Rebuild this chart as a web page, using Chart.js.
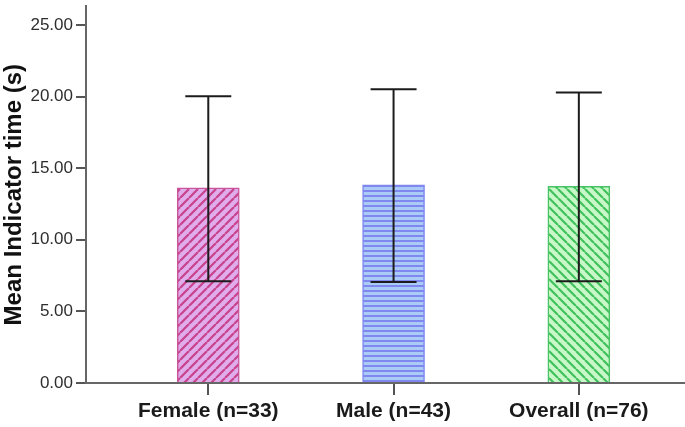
<!DOCTYPE html>
<html><head><meta charset="utf-8">
<script src="https://cdn.jsdelivr.net/npm/chart.js@4"></script>
<style>html,body{margin:0;padding:0;background:#fff}#wrap{width:685px;height:427px;position:relative}</style>
</head><body><div id="wrap"><canvas id="c"></canvas></div>
<script>
const categories = ['Female (n=33)', 'Male (n=43)', 'Overall (n=76)'];
const means = [13.63, 13.84, 13.74];
const errUpper = [20.02, 20.52, 20.29];
const errLower = [7.10, 7.05, 7.10];
const yTicks = [0, 5, 10, 15, 20, 25];
const yTitle = 'Mean Indicator time (s)';

function makePattern(kind, bg, fg) {
  const c = document.createElement('canvas');
  const ctx = c.getContext('2d');
  if (kind === 'h') {
    c.width = 4; c.height = 5;
    ctx.fillStyle = bg; ctx.fillRect(0, 0, 4, 5);
    ctx.fillStyle = fg; ctx.fillRect(0, 0, 4, 2);
  } else {
    const s = 9;
    c.width = s; c.height = s;
    ctx.fillStyle = bg; ctx.fillRect(0, 0, s, s);
    ctx.strokeStyle = fg; ctx.lineWidth = 2.2;
    ctx.beginPath();
    for (let k = -1; k <= 1; k++) {
      if (kind === '/') { ctx.moveTo(k * s, s); ctx.lineTo(k * s + s, 0); }
      else { ctx.moveTo(k * s, 0); ctx.lineTo(k * s + s, s); }
    }
    ctx.stroke();
  }
  return ctx.createPattern(c, 'repeat');
}

const fills = [
  makePattern('/', '#e0acec', '#c8428c'),
  makePattern('h', '#aacbf5', '#8088f0'),
  makePattern('\\', '#c8f7c8', '#3fc15c')
];
const borders = ['#c8569a', '#7f86f0', '#48c466'];

const errorBars = {
  id: 'errorBars',
  afterDatasetsDraw(chart) {
    const { ctx, scales: { x, y } } = chart;
    ctx.save();
    ctx.strokeStyle = '#1c1c1c';
    ctx.lineWidth = 2;
    categories.forEach((c, i) => {
      const px = x.getPixelForValue(i + 1);
      const top = y.getPixelForValue(errUpper[i]);
      const bot = y.getPixelForValue(errLower[i]);
      ctx.beginPath();
      ctx.moveTo(px, top); ctx.lineTo(px, bot);
      ctx.moveTo(px - 23, top); ctx.lineTo(px + 23, top);
      ctx.moveTo(px - 23, bot); ctx.lineTo(px + 23, bot);
      ctx.stroke();
    });
    ctx.restore();
  }
};

new Chart(document.getElementById('c'), {
  type: 'bar',
  data: {
    datasets: [{
      data: means.map((m, i) => ({ x: i + 1, y: m })),
      backgroundColor: fills,
      borderColor: borders,
      borderWidth: 1.5,
      barThickness: 62
    }]
  },
  options: {
    responsive: true,
    maintainAspectRatio: false,
    animation: false,
    events: [],
    layout: { padding: { top: 5, right: 0, left: 0, bottom: 0 } },
    plugins: { legend: { display: false }, tooltip: { enabled: false } },
    scales: {
      x: {
        type: 'linear',
        offset: false,
        min: 0.34,
        max: 3.573,
        afterBuildTicks: (s) => { s.ticks = categories.map((c, i) => ({ value: i + 1 })); },
        afterFit: (s) => { s.height = 44; },
        ticks: {
          autoSkip: false, maxRotation: 0, padding: 4,
          callback: (v) => categories[Math.round(v) - 1],
          font: { family: "'Liberation Sans', Arial, sans-serif", size: 21, weight: 'bold' },
          color: '#1a1a1a'
        },
        grid: { offset: false, drawOnChartArea: false, drawTicks: true, tickLength: 12, color: '#555', lineWidth: 2 },
        border: { display: true, color: '#666', width: 2 }
      },
      y: {
        min: 0,
        max: 26.3,
        afterBuildTicks: (s) => { s.ticks = yTicks.map(v => ({ value: v })); },
        afterFit: (s) => { s.width = 86; },
        ticks: {
          padding: 3,
          callback: (v) => Number(v).toFixed(2),
          font: { family: "'Liberation Sans', Arial, sans-serif", size: 17, lineHeight: 0.4 },
          color: '#2e2e2e'
        },
        title: {
          display: true, text: yTitle, padding: { top: 0, bottom: 3 },
          font: { family: "'Liberation Sans', Arial, sans-serif", size: 24, weight: 'bold' },
          color: '#111'
        },
        grid: { drawOnChartArea: false, drawTicks: true, tickLength: 10, color: '#555', lineWidth: 2 },
        border: { display: true, color: '#666', width: 2 }
      }
    }
  },
  plugins: [errorBars]
});
</script>
</body></html>
